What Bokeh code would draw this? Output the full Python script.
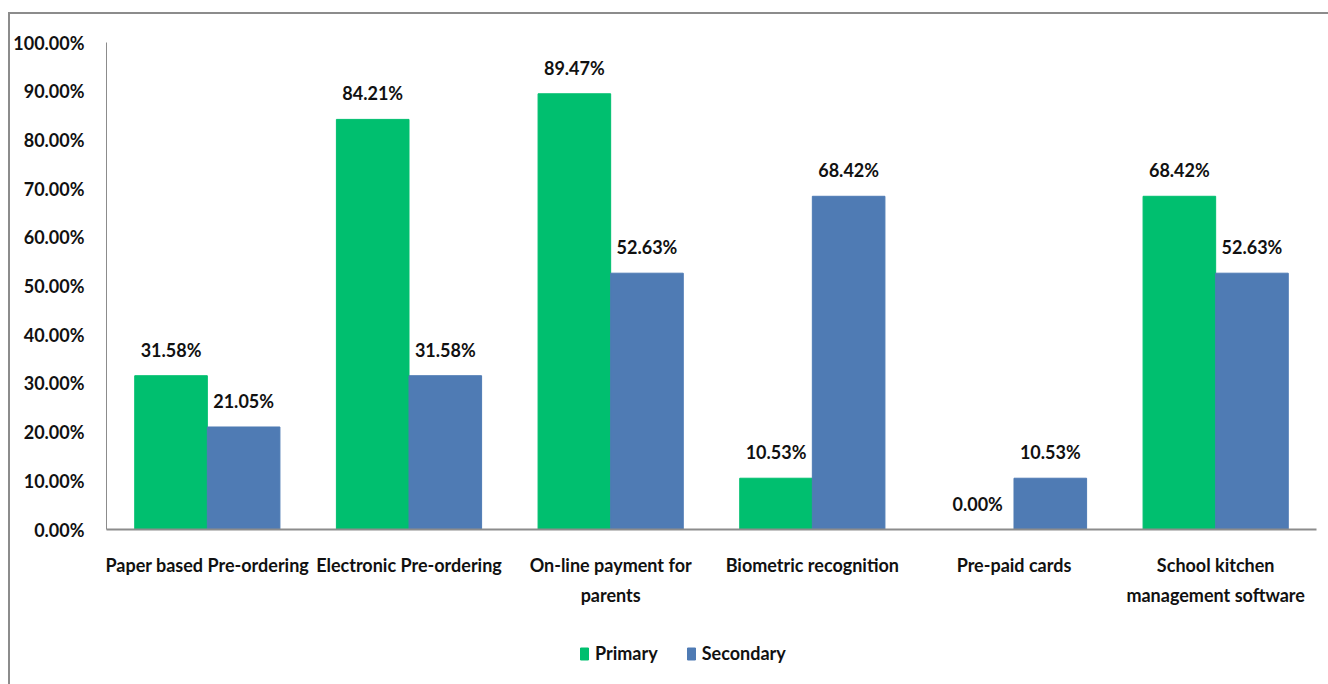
from bokeh.plotting import figure
from bokeh.layouts import column
from bokeh.models import ColumnDataSource, FactorRange, Legend, LegendItem, NumeralTickFormatter, LabelSet, FixedTicker
from bokeh.core.properties import value
from bokeh.transform import dodge
from bokeh.embed import file_html
from bokeh.resources import INLINE

categories = [
    "Paper based Pre-ordering",
    "Electronic Pre-ordering",
    "On-line payment for\nparents",
    "Biometric recognition",
    "Pre-paid cards",
    "School kitchen\nmanagement software",
]
primary = [31.58, 84.21, 89.47, 10.53, 0.00, 68.42]
secondary = [21.05, 31.58, 52.63, 68.42, 10.53, 52.63]
series_names = ["Primary", "Secondary"]
y_ticks = [0, 10, 20, 30, 40, 50, 60, 70, 80, 90, 100]

FONT = "Lato"
FSIZE = "18px"
GREEN = "#00bf6f"
BLUE = "#4f7bb4"
GRAY = "#8c8c8c"
INK = "#111111"

src = ColumnDataSource(dict(
    cat=categories,
    primary=[v / 100 for v in primary],
    secondary=[v / 100 for v in secondary],
    p_lab=[f"{v:.2f}%" for v in primary],
    s_lab=[f"{v:.2f}%" for v in secondary],
))

# --- main bar chart ---
p = figure(
    x_range=FactorRange(*categories), y_range=(0, 1),
    width=1318, height=610,
    output_backend="svg", toolbar_location=None,
    min_border_left=94, min_border_right=12,
    min_border_top=28, min_border_bottom=95,
)

p.vbar(x=dodge("cat", -0.18, range=p.x_range), top="primary", width=0.36,
       source=src, color=GREEN)
p.vbar(x=dodge("cat", 0.18, range=p.x_range), top="secondary", width=0.36,
       source=src, color=BLUE)

for dx, col, lab in [(-0.18, "primary", "p_lab"), (0.18, "secondary", "s_lab")]:
    p.add_layout(LabelSet(
        x=dodge("cat", dx, range=p.x_range), y=col, text=lab, source=src,
        text_align="center", text_baseline="bottom", y_offset=15,
        text_font=value(FONT), text_font_style="bold", text_font_size=FSIZE,
        text_color=INK,
    ))

p.xgrid.visible = False
p.ygrid.visible = False
p.outline_line_color = None

p.yaxis.ticker = FixedTicker(ticks=[t / 100 for t in y_ticks])
p.yaxis.formatter = NumeralTickFormatter(format="0.00%")
for ax in (p.xaxis, p.yaxis):
    ax.major_tick_line_color = None
    ax.minor_tick_line_color = None
    ax.axis_line_color = GRAY
    ax.axis_line_width = 2
    ax.major_label_text_font = FONT
    ax.major_label_text_font_style = "bold"
    ax.major_label_text_font_size = FSIZE
    ax.major_label_text_color = INK
p.yaxis.axis_line_width = 1
p.yaxis.major_label_standoff = 16
p.xaxis.major_label_standoff = 18
p.xaxis.major_label_text_line_height = 1.4

# --- legend strip under the chart ---
leg = figure(width=1318, height=60, output_backend="svg", toolbar_location=None,
             x_range=(0, 1), y_range=(0, 1),
             x_axis_location=None, y_axis_location=None,
             min_border=0, min_border_left=0, min_border_right=0,
             min_border_top=0, min_border_bottom=0)
leg.grid.visible = False
leg.outline_line_color = None
# one NaN row so the legend swatches have a colour to paint, nothing in the strip itself
swatch = ColumnDataSource(dict(x=[float("nan")], top=[float("nan")]))
k1 = leg.vbar(x="x", top="top", width=0.01, source=swatch, color=GREEN)
k2 = leg.vbar(x="x", top="top", width=0.01, source=swatch, color=BLUE)

legend = Legend(
    items=[LegendItem(label=series_names[0], renderers=[k1], index=0),
           LegendItem(label=series_names[1], renderers=[k2], index=0)],
    orientation="horizontal", location=(473, 20),
    label_text_font=FONT, label_text_font_style="bold", label_text_font_size=FSIZE,
    label_text_color=INK,
    glyph_width=10, glyph_height=15, spacing=28, label_standoff=6,
    border_line_color=None, background_fill_alpha=0, margin=0, padding=4,
)
leg.add_layout(legend)

page = column(p, leg, spacing=0)
page.styles = {
    "margin-left": "8px", "margin-top": "12px",
    "border-left": f"2px solid {GRAY}", "border-top": f"2px solid {GRAY}",
}

open("out.html", "w").write(file_html(page, INLINE))
